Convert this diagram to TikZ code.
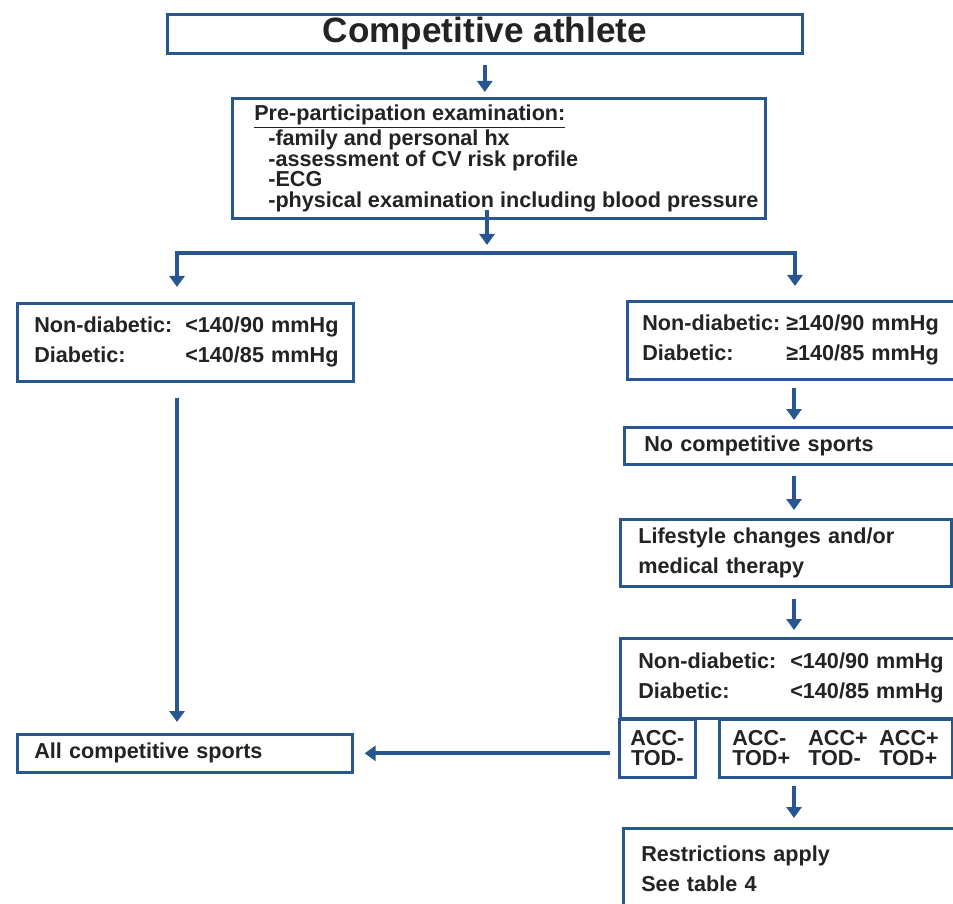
\documentclass[tikz,border=0pt]{standalone}
\usepackage{fontspec}
\setmainfont{Liberation Sans}
\usetikzlibrary{positioning}
\usetikzlibrary{arrows.meta}
\usepackage{xcolor}
\definecolor{bpblue}{RGB}{40,86,145}
\definecolor{txtgray}{RGB}{35,35,35}

\begin{document}
\begin{tikzpicture}[
		% Box and arrow styles
		box/.style={draw=bpblue, line width=1.5pt, fill=white, anchor=north west, align=left, inner xsep=0.34cm, inner ysep=0pt, text=txtgray, font=\bfseries\fontsize{12.3}{17}\selectfont},
		tight/.style={font=\bfseries\fontsize{12.3}{11.6}\selectfont},
		arrow/.style={-{Triangle[width=0.3cm,length=0.22cm]}, line width=2.4pt, draw=bpblue},
		]
		\useasboundingbox (0,0) rectangle (19.06,-18.08);

		% Top of the flow
		\node[box, align=center, minimum width=12.7cm, minimum height=0.78cm, font=\bfseries\fontsize{20}{24}\selectfont] (athlete) at (3.32,-0.26) {Competitive athlete};
		\node[box, tight, inner xsep=0.1cm, minimum width=10.66cm, minimum height=2.4cm] (exam) at (4.62,-1.94) {\hspace*{0.3cm}\underline{Pre-participation examination:}\\
			\hspace*{0.58cm}-family and personal hx\\
			\hspace*{0.58cm}-assessment of CV risk profile\\
			\hspace*{0.58cm}-ECG\\
			\hspace*{0.58cm}-physical examination including blood pressure};

		% Left branch
		\node[box, text width=6.04cm, minimum height=1.56cm] (bpLow) at (0.32,-6.04) {\makebox[3.02cm][l]{Non-diabetic:}<140/90~mmHg\\ \makebox[3.02cm][l]{Diabetic:}<140/85~mmHg};
		\node[box, text width=6.02cm, minimum height=0.76cm] (allSports) at (0.32,-14.66) {All competitive sports};

		% Right branch
		\node[box, inner xsep=0.3cm, text width=6.1cm, minimum height=1.56cm] (bpHigh) at (12.52,-6.0) {\makebox[2.88cm][l]{Non-diabetic:}≥140/90~mmHg\\ \makebox[2.88cm][l]{Diabetic:}≥140/85~mmHg};
		\node[box, inner xsep=0.4cm, text width=5.9cm, minimum height=0.74cm] (noSports) at (12.46,-8.52) {No competitive sports};
		\node[box, inner xsep=0.36cm, text width=5.9cm, minimum height=1.34cm] (lifestyle) at (12.38,-10.36) {Lifestyle changes and/or\\medical therapy};
		\node[box, inner xsep=0.36cm, text width=5.98cm, minimum height=1.6cm] (bpTreated) at (12.38,-12.74) {\makebox[3.04cm][l]{Non-diabetic:}<140/90~mmHg\\ \makebox[3.04cm][l]{Diabetic:}<140/85~mmHg};
		\node[box, tight, align=center, inner xsep=0.1cm, minimum width=1.52cm, minimum height=1.16cm, font=\bfseries\fontsize{12.3}{11.4}\selectfont] (accNeg) at (12.36,-14.36) {ACC-\\TOD-};
		\node[box, inner xsep=0.26cm, text width=4.14cm, minimum height=1.16cm, font=\bfseries\fontsize{12.3}{11.4}\selectfont] (accPos) at (14.36,-14.36) {\makebox[1.52cm][l]{ACC-}\makebox[1.42cm][l]{ACC+}ACC+\\ \makebox[1.52cm][l]{TOD+}\makebox[1.42cm][l]{TOD-}TOD+};
		\node[box, inner xsep=0.36cm, text width=6.08cm, minimum height=1.62cm] (restrict) at (12.44,-16.54) {Restrictions apply\\See table 4};

		% Fork and column positions
		\coordinate (fork) at (9.74,-5.06);
		\coordinate (forkL) at (3.54,-5.06);
		\coordinate (forkR) at (15.9,-5.06);
		\coordinate (colR) at (15.88,0);

		% Main flow arrows
		\draw[arrow] ([yshift=-0.2cm]athlete.south) -- ([yshift=0.1cm]athlete.south |- exam.north);
		\draw[arrow] ([yshift=0.2cm]fork |- exam.south) -- ([yshift=0.16cm]fork);
		\draw[arrow] (forkR) -- (forkL) -- ([yshift=0.3cm]forkL |- bpLow.north);
		\draw[arrow] (forkL) -- (forkR) -- ([yshift=0.28cm]forkR |- bpHigh.north);
		\draw[arrow] ([yshift=-0.3cm]forkL |- bpLow.south) -- ([yshift=0.22cm]forkL |- allSports.north);

		% Right column arrows
		\draw[arrow] ([yshift=-0.14cm]colR |- bpHigh.south) -- ([yshift=0.12cm]colR |- noSports.north);
		\draw[arrow] ([yshift=-0.2cm]colR |- noSports.south) -- ([yshift=0.16cm]colR |- lifestyle.north);
		\draw[arrow] ([yshift=-0.22cm]colR |- lifestyle.south) -- ([yshift=0.14cm]colR |- bpTreated.north);
		\draw[arrow] ([yshift=-0.14cm]colR |- accPos.south) -- ([yshift=0.18cm]colR |- restrict.north);

		% Back to all sports
		\draw[arrow] ([xshift=-0.16cm]accNeg.west |- allSports.east) -- ([xshift=0.22cm]allSports.east);

	\end{tikzpicture}
\end{document}
